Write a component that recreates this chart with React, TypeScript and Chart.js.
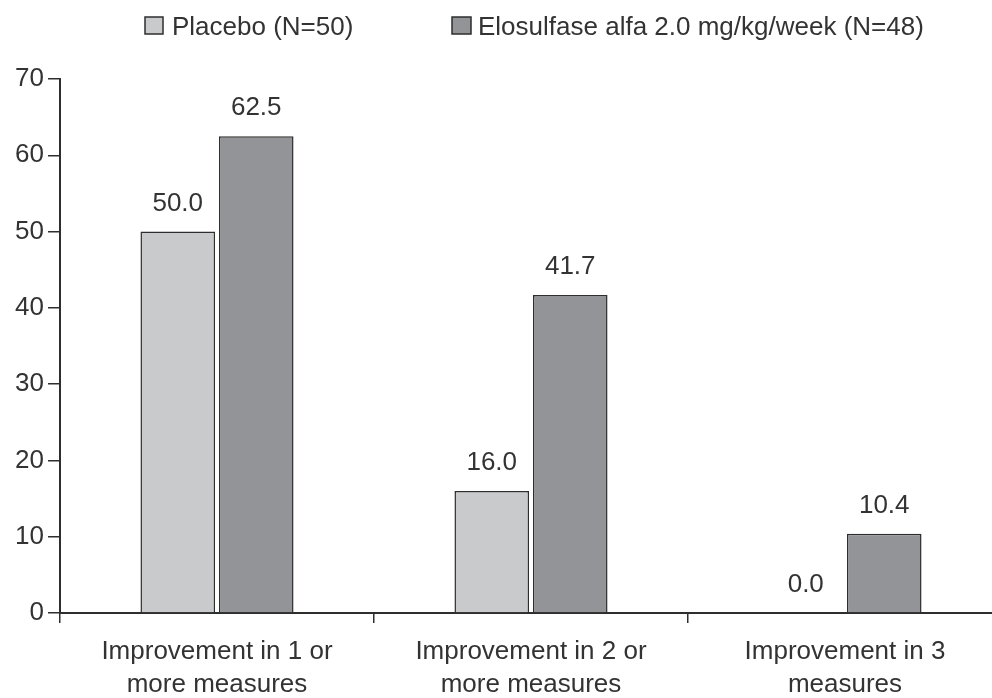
import React, { useEffect, useRef } from "react";
import { Chart, registerables } from "chart.js";

Chart.register(...registerables);

const categories: string[][] = [
  ["Improvement in 1 or", "more measures"],
  ["Improvement in 2 or", "more measures"],
  ["Improvement in 3", "measures"],
];
const seriesNames = ["Placebo (N=50)", "Elosulfase alfa 2.0 mg/kg/week (N=48)"];
const placeboValues = [50.0, 16.0, 0.0];
const elosulfaseValues = [62.5, 41.7, 10.4];
const yTicks = [0, 10, 20, 30, 40, 50, 60, 70];

const FONT = "'Liberation Sans', Arial, Helvetica, sans-serif";
const TEXT = "#333333";
const AXIS = "#2e2e2e";
const FILLS = ["#c9cacc", "#939498"];

const overlayPlugin = {
  id: "overlay",
  afterDatasetsDraw(chart: any) {
    const ctx = chart.ctx;
    ctx.save();
    ctx.font = `26px ${FONT}`;
    ctx.fillStyle = TEXT;
    ctx.textAlign = "center";
    ctx.textBaseline = "alphabetic";
    chart.data.datasets.forEach((ds: any, di: number) => {
      const meta = chart.getDatasetMeta(di);
      meta.data.forEach((bar: any, i: number) => {
        const v = ds.data[i] as number;
        ctx.fillText(v.toFixed(1), bar.x, bar.y - 21);
      });
    });
    ctx.restore();
  },
  afterDraw(chart: any) {
    const ctx = chart.ctx;
    ctx.save();
    const items = [
      { box: [145, 17, 18, 17], textX: 172 },
      { box: [452, 17, 19, 17], textX: 478 },
    ];
    items.forEach((it, i) => {
      const [x, y, w, h] = it.box;
      ctx.fillStyle = FILLS[i];
      ctx.fillRect(x, y, w, h);
      ctx.strokeStyle = AXIS;
      ctx.lineWidth = 1.5;
      ctx.strokeRect(x, y, w, h);
      ctx.fillStyle = TEXT;
      ctx.font = `26px ${FONT}`;
      ctx.textAlign = "left";
      ctx.textBaseline = "alphabetic";
      ctx.fillText(seriesNames[i], it.textX, 35);
    });
    ctx.restore();
  },
};

export default function App() {
  const ref = useRef<HTMLCanvasElement | null>(null);
  useEffect(() => {
    if (!ref.current) return;
    const chart = new Chart(ref.current, {
      type: "bar",
      data: {
        labels: categories,
        datasets: [
          {
            label: seriesNames[0],
            data: placeboValues,
            backgroundColor: FILLS[0],
            borderColor: AXIS,
            borderWidth: 1.5,
            barPercentage: 0.95,
            categoryPercentage: 0.5,
          },
          {
            label: seriesNames[1],
            data: elosulfaseValues,
            backgroundColor: FILLS[1],
            borderColor: AXIS,
            borderWidth: 1.5,
            barPercentage: 0.95,
            categoryPercentage: 0.5,
          },
        ],
      },
      options: {
        responsive: false,
        animation: false,
        devicePixelRatio: 1,
        layout: { padding: { top: 79, left: 0, right: 0, bottom: 0 } },
        plugins: {
          legend: { display: false },
          tooltip: { enabled: false },
          title: { display: false },
        },
        scales: {
          x: {
            offset: true,
            grid: {
              display: true,
              offset: true,
              drawOnChartArea: false,
              drawTicks: true,
              tickLength: 10,
              color: AXIS,
              lineWidth: 1.5,
            },
            border: { display: true, color: AXIS, width: 2 },
            ticks: {
              color: TEXT,
              padding: 12,
              font: { family: FONT, size: 26, lineHeight: 1.27 },
              maxRotation: 0,
              autoSkip: false,
            },
            afterFit(scale: any) {
              scale.height = 85;
            },
          },
          y: {
            min: yTicks[0],
            max: yTicks[yTicks.length - 1],
            afterBuildTicks(scale: any) {
              scale.ticks = yTicks.map((v) => ({ value: v }));
            },
            grid: {
              display: true,
              drawOnChartArea: false,
              drawTicks: true,
              tickLength: 12,
              color: AXIS,
              lineWidth: 1.5,
            },
            border: { display: true, color: AXIS, width: 2 },
            ticks: {
              color: TEXT,
              padding: 4,
              font: { family: FONT, size: 26 },
            },
            afterFit(scale: any) {
              scale.width = 60;
            },
          },
        },
      },
      plugins: [overlayPlugin],
    });
    return () => chart.destroy();
  }, []);
  return (
    <div
      style={{
        position: "fixed",
        left: 0,
        top: 0,
        width: 992,
        height: 698,
        overflow: "hidden",
        background: "#fff",
      }}
    >
      <canvas ref={ref} width={1002} height={698} style={{ width: 1002, height: 698, display: "block" }} />
    </div>
  );
}
